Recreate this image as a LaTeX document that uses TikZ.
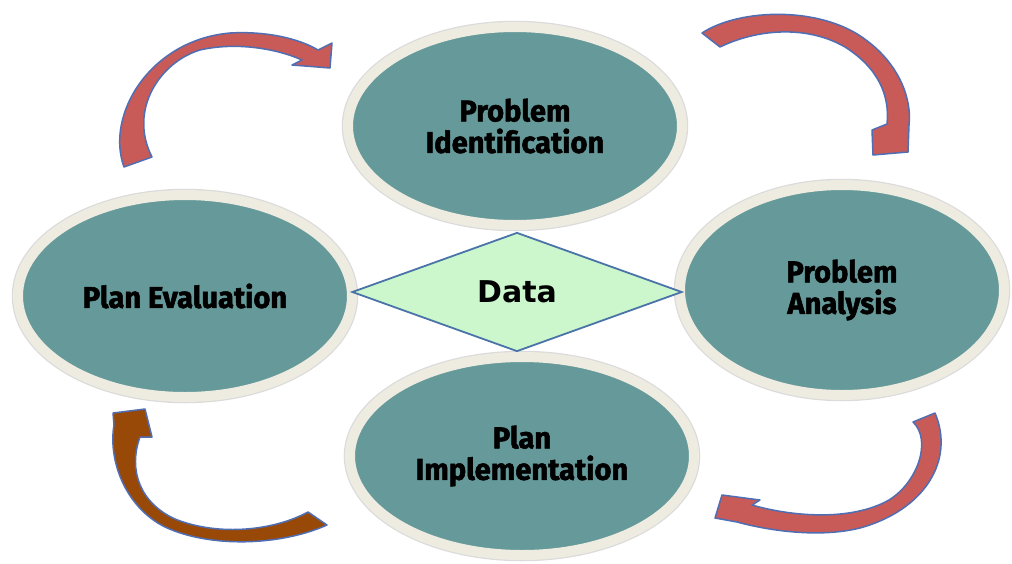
\documentclass[tikz,border=0pt]{standalone}
\usepackage{fontspec}
\usetikzlibrary{shapes.geometric}
\newfontfamily\lblfont[FakeStretch=0.97, BoldFeatures={FakeBold=1.8}]{Fira Sans}
\newfontfamily\datafont{DejaVu Sans}
\definecolor{tealfill}{HTML}{669A9A}
\definecolor{creamring}{HTML}{EEECE1}
\definecolor{diafill}{HTML}{CCF7CC}
\definecolor{diaborder}{HTML}{4A74A8}
\definecolor{arrred}{HTML}{C85A58}
\definecolor{arrbrown}{HTML}{984807}
\definecolor{arrblue}{HTML}{4F6EB4}
\tikzset{
  stage/.style={ellipse, fill=tealfill, draw=creamring, line width=10pt,
    preaction={draw=black!14, line width=12.5pt},
    inner sep=0pt, align=center, text=black,
    font=\lblfont\bfseries\fontsize{30}{31.5}\selectfont},
  datad/.style={diamond, draw=diaborder, fill=diafill, line width=1.8pt,
    minimum width=330pt, minimum height=119pt, inner sep=0pt, text=black,
    font=\datafont\bfseries\fontsize{30}{36}\selectfont},
  arr/.style={fill=arrred, draw=arrblue, line width=1.5pt, line join=round}
}
\begin{document}
\begin{tikzpicture}[x=1pt,y=-1pt]
\useasboundingbox (0,0) rectangle (1012,563);
\fill[white] (0,0) rectangle (1012,563);

% curved arrows
\path[arr] (124,167) .. controls (105,115) and (150,40) .. (230,33)
  .. controls (265,31) and (298,38) .. (318,50) -- (332,43) -- (330,68) -- (292,65) -- (302,60)
  .. controls (275,48) and (235,42) .. (200,50)
  .. controls (160,62) and (128,110) .. (152,157) -- cycle;

\path[arr] (702,33) .. controls (740,8) and (822,6) .. (866,40)
  .. controls (900,65) and (912,100) .. (909,125) -- (908,152) -- (873,155) -- (872,130) -- (887,124)
  .. controls (890,95) and (878,68) .. (845,47)
  .. controls (805,24) and (755,30) .. (720,47) -- cycle;

\path[arr] (935,413) .. controls (955,460) and (925,510) .. (860,528)
  .. controls (820,538) and (770,531) .. (737,522) -- (715,518) -- (722,495) -- (760,500) -- (752,505)
  .. controls (790,516) and (850,522) .. (889,500)
  .. controls (918,482) and (932,440) .. (913,422) -- cycle;

\path[arr, fill=arrbrown] (327,525) .. controls (280,546) and (210,548) .. (165,527)
  .. controls (125,507) and (108,460) .. (114,425) -- (113,413) -- (145,409) -- (152,437) -- (140,437)
  .. controls (128,470) and (140,503) .. (175,519)
  .. controls (220,537) and (275,530) .. (308,512) -- cycle;

% stages
\node[stage, minimum width=334pt, minimum height=198pt] (pid) at (515,126) {Problem\\Identification};
\node[stage, minimum width=334pt, minimum height=202pt] (pev) at (185,296) {Plan Evaluation};
\node[stage, minimum width=324pt, minimum height=210pt] (pan) at (842,290) {Problem\\Analysis};
\node[stage, minimum width=344pt, minimum height=198pt] (pim) at (522,456) {Plan\\Implementation};

% centre
\node[datad] (data) at (517,292) {Data};
\end{tikzpicture}
\end{document}
